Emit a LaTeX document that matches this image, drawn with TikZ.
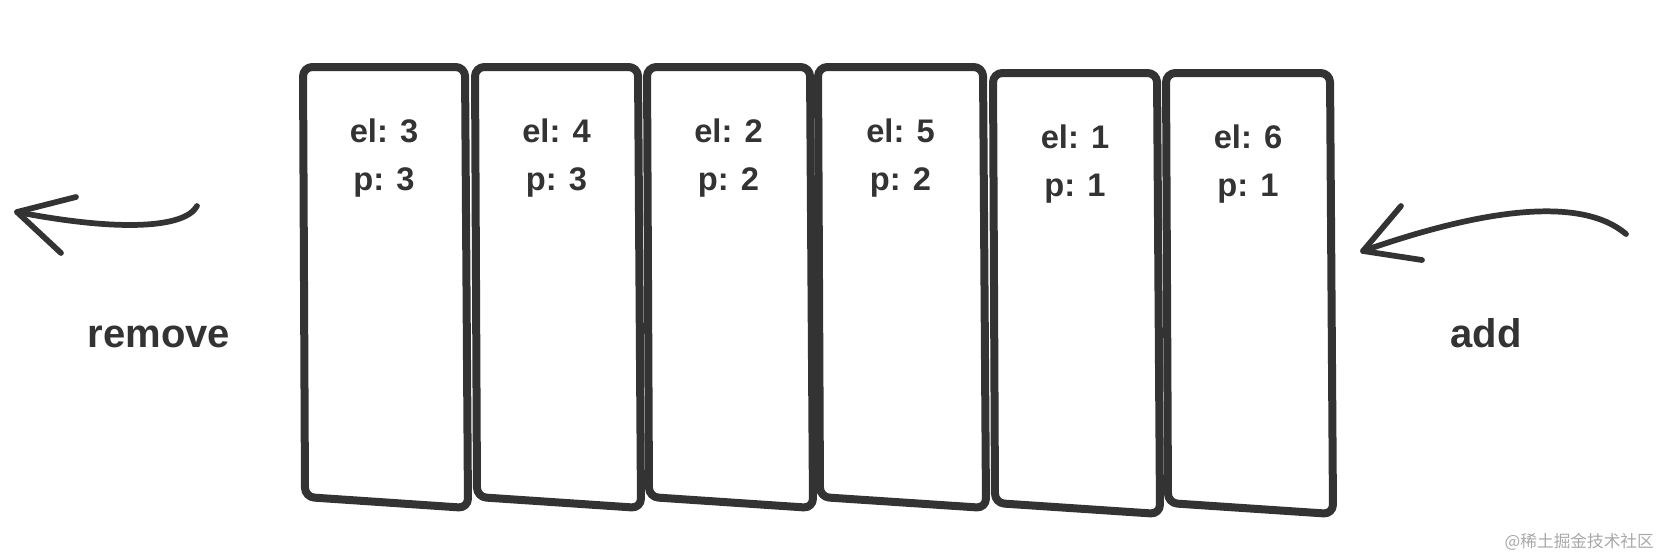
\documentclass[tikz,border=0pt]{standalone}
\usepackage{fontspec}
\setmainfont{Liberation Sans}
\newfontfamily\cjk{Noto Sans CJK SC}
\definecolor{ink}{HTML}{333333}
\definecolor{mark}{HTML}{A8A8A8}

\begin{document}
\begin{tikzpicture}[x=0.75pt,y=-0.75pt,
    slot/.style={draw=ink,line width=6pt,rounded corners=7pt,line join=round},
    lbl/.style={text=ink,font=\bfseries\fontsize{24.5}{24.5}\selectfont,anchor=base,inner sep=0pt},
    word/.style={text=ink,font=\bfseries\fontsize{30}{30}\selectfont,anchor=base,inner sep=0pt},
    curve/.style={draw=ink,line width=4.3pt,line cap=round,line join=round}]

    \useasboundingbox (0,0) rectangle (1662,558);

    % queue slots: element and priority
    \foreach \i/\xl/\xr/\yt/\el/\p in {1/303/465/67/3/3, 2/475/638/67/4/3, 3/647/810/67/2/2,
                                        4/818/983/67/5/2, 5/993/1157/73/1/1, 6/1166/1330/73/6/1}{
        \draw[slot] (\xl,\yt) -- (\xr,\yt) -- ({\xr+3},{\yt+441}) -- ({\xl+2},{\yt+430}) -- cycle;
        \node[lbl] (el\i) at ({(\xl+\xr)/2},{\yt+75}) {el: \el};
        \node[lbl] (p\i) at ({(\xl+\xr)/2},{\yt+123}) {p: \p};
    }

    % remove (left)
    \coordinate (rmtail) at (197,206);
    \coordinate (rmtip) at (17,212);
    \coordinate (rmup) at (76,197);
    \coordinate (rmdown) at (61,253);
    \draw[curve] (rmtail) .. controls (185,228) and (120,232) .. (rmtip);
    \draw[curve] (rmup) -- (rmtip) -- (rmdown);
    \node[word] (remove) at (159,347) {remove};

    % add (right)
    \coordinate (adtail) at (1626,234);
    \coordinate (adtip) at (1363,251);
    \coordinate (adup) at (1401,206);
    \coordinate (addown) at (1422,260);
    \draw[curve] (adtail) .. controls (1580,195) and (1480,210) .. (adtip);
    \draw[curve] (adup) -- (adtip) -- (addown);
    \node[word] (add) at (1486,347) {add};

    % watermark
    \node[text=mark,font=\cjk\fontsize{12.5}{12.5}\selectfont,anchor=east,inner sep=0pt] (wmark) at (1654,542) {@稀土掘金技术社区};

\end{tikzpicture}
\end{document}
